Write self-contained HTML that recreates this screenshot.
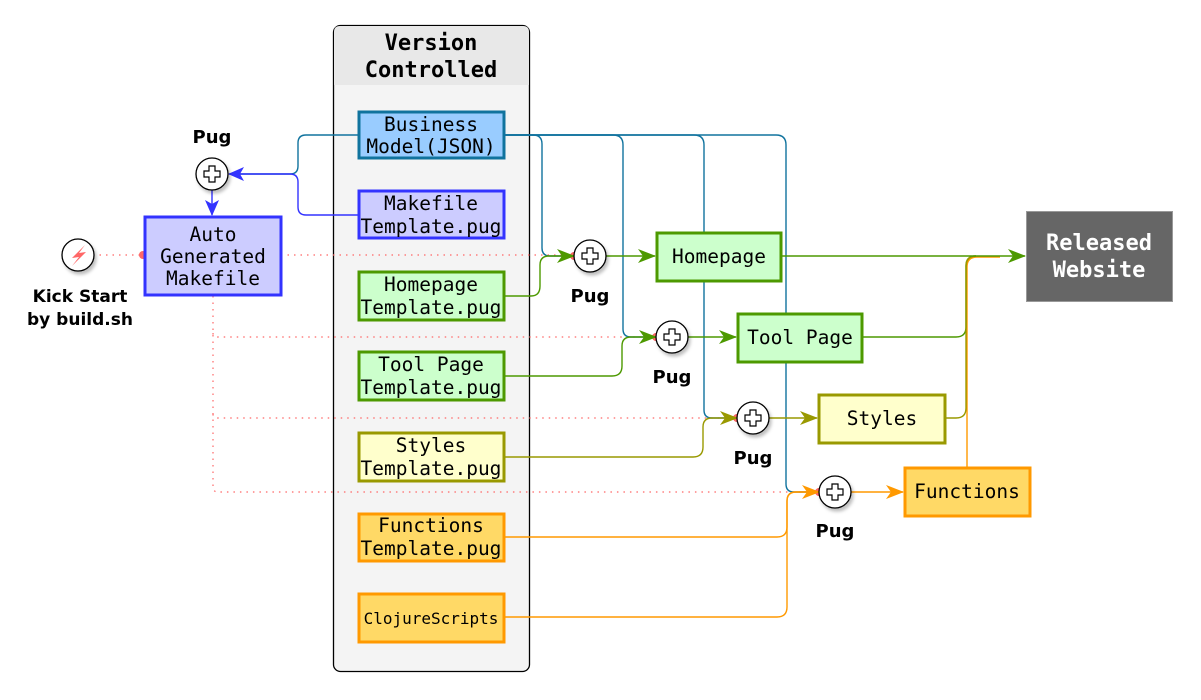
<!DOCTYPE html>
<html><head><meta charset="utf-8"><style>
html,body{margin:0;padding:0;background:#fff;}
svg{display:block;}
.m{font-family:"DejaVu Sans Mono","Liberation Mono",monospace;font-size:19.5px;fill:#000;text-anchor:middle;}
.b{font-family:"DejaVu Sans","Liberation Sans",sans-serif;font-weight:bold;font-size:18px;fill:#000;text-anchor:middle;}
</style></head><body>
<svg width="1201" height="700" viewBox="0 0 1201 700" xmlns="http://www.w3.org/2000/svg">
<defs>
<marker id="aG" markerWidth="18" markerHeight="14" refX="17" refY="7" orient="auto" markerUnits="userSpaceOnUse" viewBox="0 0 18 14"><path d="M0,0 L18,7 L0,14 L5,7 Z" fill="#4d9900"/></marker>
<marker id="aO" markerWidth="18" markerHeight="14" refX="17" refY="7" orient="auto" markerUnits="userSpaceOnUse" viewBox="0 0 18 14"><path d="M0,0 L18,7 L0,14 L5,7 Z" fill="#999900"/></marker>
<marker id="aY" markerWidth="18" markerHeight="14" refX="17" refY="7" orient="auto" markerUnits="userSpaceOnUse" viewBox="0 0 18 14"><path d="M0,0 L18,7 L0,14 L5,7 Z" fill="#ff9900"/></marker>
<marker id="aBl" markerWidth="16" markerHeight="14" refX="15" refY="7" orient="auto" markerUnits="userSpaceOnUse" viewBox="0 0 16 14"><path d="M0,0 L16,7 L0,14 L4,7 Z" fill="#3333ff"/></marker>
<filter id="sh" x="-30%" y="-30%" width="170%" height="170%"><feDropShadow dx="2" dy="3" stdDeviation="1.5" flood-color="#000" flood-opacity="0.25"/></filter>
</defs>

<rect x="333.5" y="25.5" width="196" height="646" rx="7" fill="#f4f4f4" stroke="#000" stroke-width="1.3"/>
<path d="M334,85 V32 Q334,26 340,26 H523 Q529,26 529,32 V85 Z" fill="#e8e8e8"/>
<text class="m" x="431" y="50" style="font-weight:bold;font-size:22px">Version</text>
<text class="m" x="431" y="77" style="font-weight:bold;font-size:22px">Controlled</text>

<g fill="none" stroke="#ff6666" stroke-width="1.2" stroke-dasharray="1.5,5">
<path d="M93,255 H143"/>
<path d="M281,255 H573"/>
<path d="M213,296 V487 Q213,492 218,492 H818"/>
<path d="M213,333 Q213,337 218,337 H655"/>
<path d="M213,414 Q213,418 218,418 H736"/>
</g>
<g fill="#ff6666"><circle cx="143" cy="255" r="4"/><circle cx="574" cy="256" r="4"/><circle cx="656" cy="337" r="4"/><circle cx="737" cy="418" r="4"/><circle cx="819" cy="492" r="4"/></g>

<g fill="none" stroke="#10739e" stroke-width="1.4">
<path d="M505,135 H533 Q542,135 542,144 V248 Q542,256 550,256 H572"/>
<path d="M505,135 H613 Q623,135 623,145 V329 Q623,337 631,337 H655"/>
<path d="M505,135 H694 Q704,135 704,145 V410 Q704,418 712,418 H736"/>
<path d="M505,135 H776 Q786,135 786,145 V484 Q786,492 794,492 H818"/>
<path d="M358,135 H306 Q298,135 298,143 V166 Q298,174 290,174 H240"/>
</g>
<path d="M358,215 H306 Q298,215 298,207 V182 Q298,174 290,174 H229" fill="none" stroke="#3333ff" stroke-width="1.4" marker-end="url(#aBl)"/>
<path d="M212,190 V215" fill="none" stroke="#3333ff" stroke-width="1.4" marker-end="url(#aBl)"/>

<g fill="none" stroke-width="1.4">
<path d="M505,296 H531 Q540,296 540,286 V265 Q540,256 549,256 H574" stroke="#4d9900" marker-end="url(#aG)"/>
<path d="M505,376 H612 Q622,376 622,366 V346 Q622,337 631,337 H656" stroke="#4d9900" marker-end="url(#aG)"/>
<path d="M505,457 H693 Q703,457 703,447 V427 Q703,418 712,418 H737" stroke="#999900" marker-end="url(#aO)"/>
<path d="M505,537 H777 Q787,537 787,527 V501 Q787,492 796,492 H819" stroke="#ff9900" marker-end="url(#aY)"/>
<path d="M505,617 H777 Q787,617 787,607 V501 Q787,492 796,492 H819" stroke="#ff9900"/>
<path d="M606,256 H655" stroke="#4d9900" marker-end="url(#aG)"/>
<path d="M688,337 H736" stroke="#4d9900" marker-end="url(#aG)"/>
<path d="M769,418 H817" stroke="#999900" marker-end="url(#aO)"/>
<path d="M851,492 H903" stroke="#ff9900" marker-end="url(#aY)"/>
<path d="M967,467 V267 Q967,257 977,257 H1000" stroke="#ff9900"/>
<path d="M862,337 H956 Q966,337 966,327 V266 Q966,256 976,256" stroke="#4d9900"/>
<path d="M945,418 H956 Q966,418 966,408 V266 Q966,256 976,256" stroke="#999900"/>
<path d="M781,256 H1025" stroke="#4d9900" marker-end="url(#aG)"/>
</g>

<g stroke-width="3">
<rect x="359" y="112" width="145" height="46" fill="#99ccff" stroke="#10739e"/>
<rect x="359" y="191" width="145" height="47" fill="#ccccff" stroke="#3333ff"/>
<rect x="359" y="272" width="145" height="48" fill="#ccffcc" stroke="#4d9900"/>
<rect x="359" y="352" width="145" height="48" fill="#ccffcc" stroke="#4d9900"/>
<rect x="359" y="433" width="145" height="48" fill="#ffffcc" stroke="#999900"/>
<rect x="359" y="514" width="145" height="47" fill="#ffd966" stroke="#ff9900"/>
<rect x="359" y="594" width="145" height="48" fill="#ffd966" stroke="#ff9900"/>
<rect x="145" y="217" width="136" height="78" fill="#ccccff" stroke="#3333ff"/>
<rect x="657" y="233" width="124" height="48" fill="#ccffcc" stroke="#4d9900"/>
<rect x="738" y="314" width="124" height="48" fill="#ccffcc" stroke="#4d9900"/>
<rect x="819" y="395" width="126" height="48" fill="#ffffcc" stroke="#999900"/>
<rect x="905" y="468" width="125" height="48" fill="#ffd966" stroke="#ff9900"/>
</g>
<rect x="1026.5" y="211.5" width="146" height="90" fill="#666666" stroke="#999" stroke-width="1"/>

<text class="m" x="431" y="131">Business</text><text class="m" x="431" y="153">Model(JSON)</text>
<text class="m" x="431" y="210">Makefile</text><text class="m" x="431" y="233">Template.pug</text>
<text class="m" x="431" y="291">Homepage</text><text class="m" x="431" y="314">Template.pug</text>
<text class="m" x="431" y="371">Tool Page</text><text class="m" x="431" y="394">Template.pug</text>
<text class="m" x="431" y="452">Styles</text><text class="m" x="431" y="475">Template.pug</text>
<text class="m" x="431" y="532">Functions</text><text class="m" x="431" y="555">Template.pug</text>
<text class="m" x="431" y="624" style="font-size:16px">ClojureScripts</text>
<text class="m" x="213" y="241">Auto</text>
<text class="m" x="213" y="263">Generated</text>
<text class="m" x="213" y="285">Makefile</text>
<text class="m" x="719" y="263">Homepage</text>
<text class="m" x="800" y="344">Tool Page</text>
<text class="m" x="882" y="425">Styles</text>
<text class="m" x="967" y="498">Functions</text>
<text class="m" x="1099" y="250" style="font-size:22px;font-weight:bold;fill:#fff">Released</text>
<text class="m" x="1099" y="277" style="font-size:22px;font-weight:bold;fill:#fff">Website</text>

<g filter="url(#sh)" fill="#fff" stroke="#000" stroke-width="1.3">
<circle cx="212" cy="174" r="16"/>
<circle cx="590" cy="256" r="16"/>
<circle cx="672" cy="337" r="16"/>
<circle cx="753" cy="418" r="16"/>
<circle cx="835" cy="492" r="16"/>
<circle cx="78" cy="255" r="16"/>
</g>
<g fill="#fff" stroke="#000" stroke-width="1.2">
<path d="M209,166 h6 v5 h5 v6 h-5 v5 h-6 v-5 h-5 v-6 h5 z"/>
<path d="M587,248 h6 v5 h5 v6 h-5 v5 h-6 v-5 h-5 v-6 h5 z"/>
<path d="M669,329 h6 v5 h5 v6 h-5 v5 h-6 v-5 h-5 v-6 h5 z"/>
<path d="M750,410 h6 v5 h5 v6 h-5 v5 h-6 v-5 h-5 v-6 h5 z"/>
<path d="M832,484 h6 v5 h5 v6 h-5 v5 h-6 v-5 h-5 v-6 h5 z"/>
</g>
<path d="M85,245 L72,258 L79,257 L72,266 L86,252 L79,253 Z" fill="#ff6666"/>

<text class="b" x="212" y="143">Pug</text>
<text class="b" x="590" y="302">Pug</text>
<text class="b" x="672" y="383">Pug</text>
<text class="b" x="753" y="464">Pug</text>
<text class="b" x="835" y="537">Pug</text>
<text class="b" x="80" y="302" style="font-size:17px">Kick Start</text>
<text class="b" x="80" y="325" style="font-size:17px">by build.sh</text>
</svg>
</body></html>
